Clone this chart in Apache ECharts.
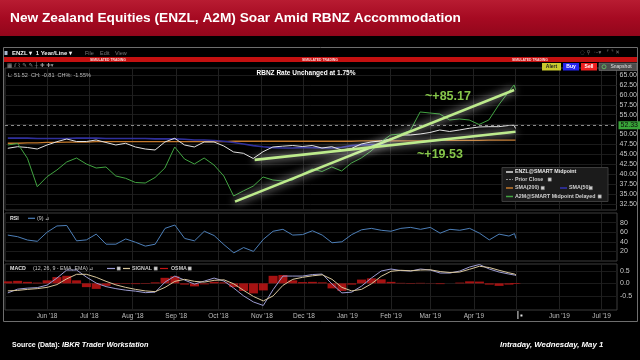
<!DOCTYPE html>
<html><head><meta charset="utf-8">
<script src="https://cdn.jsdelivr.net/npm/echarts@6.0.0/dist/echarts.min.js"></script>
<style>html,body{margin:0;padding:0;background:#000;}#c{width:640px;height:360px;}</style>
</head><body><div id="c"></div>
<script>
// ---------- DATA ----------
const dates = ['2018-05-04','2018-05-11','2018-05-18','2018-05-25','2018-06-01','2018-06-08','2018-06-15','2018-06-22','2018-06-29','2018-07-06','2018-07-13','2018-07-20','2018-07-27','2018-08-03','2018-08-10','2018-08-17','2018-08-24','2018-08-31','2018-09-07','2018-09-14','2018-09-21','2018-09-28','2018-10-05','2018-10-12','2018-10-19','2018-10-26','2018-11-02','2018-11-09','2018-11-16','2018-11-23','2018-11-30','2018-12-07','2018-12-14','2018-12-21','2018-12-28','2019-01-04','2019-01-11','2019-01-18','2019-01-25','2019-02-01','2019-02-08','2019-02-15','2019-02-22','2019-03-01','2019-03-08','2019-03-15','2019-03-22','2019-03-29','2019-04-05','2019-04-12','2019-04-19','2019-04-26','2019-04-30','2019-05-01'];
const enzl = [46.53,46.93,46.73,46.35,47.36,48.19,48.87,48.24,48.24,48.62,47.99,47.36,47.79,46.86,46.35,46.10,48.12,49.05,47.36,46.86,48.12,48.12,47.11,45.60,45.27,43.96,45.67,46.86,47.06,47.23,46.98,47.23,46.60,46.93,46.10,46.48,47.61,48.12,48.37,48.87,49.88,49.88,50.13,50.51,51.14,50.76,51.14,51.57,51.90,51.97,51.97,52.27,52.33,51.52];
const a2m = [47.36,47.74,44.0,36.85,39.37,41.06,43.08,44.08,42.57,41.56,41.82,39.55,38.97,37.91,37.78,39.17,41.56,46.86,43.83,42.57,44.08,42.32,39.55,34.5,35.8,37.0,39.3,38.54,38.29,38.54,40.05,41.31,40.68,41.82,40.81,42.82,44.08,45.85,48.12,49.88,50.13,51.01,55.68,55.42,55.17,53.66,53.91,53.66,52.53,53.66,57.44,60.72,62.5,61.3];
const sma200 = [47.8,47.8,47.9,47.9,48.0,48.0,48.1,48.1,48.1,48.2,48.2,48.2,48.2,48.2,48.2,48.2,48.2,48.2,48.2,48.2,48.2,48.2,48.2,48.3,48.3,48.3,48.3,48.3,48.3,48.3,48.3,48.3,48.3,48.3,48.3,48.3,48.4,48.4,48.4,48.4,48.4,48.4,48.4,48.5,48.5,48.5,48.5,48.5,48.5,48.6,48.6,48.6,48.6,48.6];
const sma50 = [49.1,49.1,49.1,49.0,49.0,49.0,49.0,49.1,49.1,49.1,49.0,49.0,49.0,49.0,49.0,48.9,48.9,48.9,48.8,48.6,48.6,48.5,48.3,48.0,47.6,47.2,46.9,46.7,46.6,46.6,46.7,46.7,46.6,46.6,46.8,47.2,47.4,47.5,47.4,47.3,47.55,47.8,48.1,48.35,48.6,48.9,49.15,49.4,49.7,49.95,50.2,50.5,50.65,50.7];
const rsi = [54,50.6,43.7,41,60,73,74,42,44,56,35,35,46,39,31,35,68,75,47,42,62,53,34,17,28,20,45,62,66,54,55,63,54,38,40,55,65,68,64,62,68,70,66,70,58,66,64,68,58,44,56,52,57,47];
const macd = [-0.38,-0.23,-0.19,-0.17,-0.07,0.21,0.53,0.53,0.25,0.01,-0.13,-0.21,-0.27,-0.31,-0.37,-0.35,0.05,0.29,0.13,-0.03,0.09,0.21,0.09,-0.19,-0.5,-0.74,-0.88,-0.25,0.29,0.29,0.29,0.35,0.37,-0.03,-0.38,-0.35,-0.11,0.21,0.49,0.57,0.51,0.49,0.57,0.53,0.41,0.41,0.49,0.65,0.75,0.57,0.45,0.37,0.33,0.31];
const signal = [-0.30,-0.28,-0.24,-0.21,-0.16,-0.05,0.18,0.36,0.36,0.24,0.08,-0.06,-0.16,-0.24,-0.30,-0.33,-0.16,0.08,0.16,0.08,0.05,0.12,0.14,-0.02,-0.28,-0.52,-0.70,-0.50,-0.08,0.16,0.24,0.30,0.34,0.16,-0.16,-0.30,-0.24,-0.02,0.28,0.48,0.52,0.50,0.53,0.54,0.47,0.43,0.45,0.56,0.68,0.63,0.52,0.42,0.37,0.34];
const osma = [0.08,0.1,0.06,0.03,0.12,0.25,0.3,0.12,-0.15,-0.22,-0.1,-0.03,-0.02,-0.03,-0.02,0.04,0.22,0.28,-0.05,-0.12,-0.04,0.06,0.04,-0.15,-0.3,-0.4,-0.28,0.3,0.33,0.12,0.05,0.06,0.04,-0.2,-0.3,-0.05,0.15,0.2,0.16,0.06,0.02,-0.02,0.02,0.01,-0.03,0.0,0.03,0.08,0.07,-0.05,-0.1,-0.05,-0.02,-0.02];
const trendA2M = [['2018-10-13',33.1],['2019-04-30',61.2]];
const trendENZL = [['2018-10-27',43.6],['2019-05-01',50.7]];
const priorClose = 52.33;
const lastPrice = 51.52;
const priceTicks = [32.5,35,37.5,40,42.5,45,47.5,50,52.5,55,57.5,60,62.5,65];
const rsiTicks = [20,40,60,80];
const macdTicks = [-0.5,0,0.5];
const monthTicks = ['2018-06-01','2018-07-01','2018-08-01','2018-09-01','2018-10-01','2018-11-01','2018-12-01','2019-01-01','2019-02-01','2019-03-01','2019-04-01','2019-06-01','2019-07-01'];
const gridLines = ['2018-06-01','2018-07-01','2018-08-01','2018-09-01','2018-10-01','2018-11-01','2018-12-01','2019-01-01','2019-02-01','2019-03-01','2019-04-01','2019-05-01','2019-06-01','2019-07-01'];
const xStart = '2018-05-02', xEnd = '2019-07-12', nowDate = '2019-05-01';

// ---------- HELPERS ----------
function ts(s){const p=s.split('-').map(Number);return new Date(p[0],p[1]-1,p[2]).getTime();}
const pair = arr => dates.map((d,i)=>[ts(d),arr[i]]);
const MON = ['Jan','Feb','Mar','Apr','May','Jun','Jul','Aug','Sep','Oct','Nov','Dec'];
const fmtMonth = v => {const d=new Date(v);return MON[d.getMonth()]+" '"+String(d.getFullYear()).slice(2);};
const FF = '"Liberation Sans", Arial, sans-serif';

const chart = echarts.init(document.getElementById('c'), null, {renderer:'canvas'});

const xAx = (gi, show) => ({
  type:'value', gridIndex:gi, min:ts(xStart), max:ts(xEnd),
  axisLine:{show:false},
  axisTick:{show:false, customValues: gridLines.map(ts)},
  splitLine:{show:true, lineStyle:{color:'#202020', width:1}},
  axisLabel:{show:show, customValues: monthTicks.map(ts), formatter:fmtMonth, color:'#bdbdbd', fontSize:6.5, margin:3, fontFamily:FF}
});
const yAx = (gi, min, max, ticks, fmt) => ({
  type:'value', gridIndex:gi, position:'right', min, max,
  axisLine:{show:false},
  axisTick:{show:false, customValues:ticks},
  splitLine:{show:true, lineStyle:{color:'#1b1b1b', width:1}},
  axisLabel:{customValues:ticks, formatter:fmt, color:'#c8c8c8', fontSize:7, margin:3, fontFamily:FF}
});
const lineS = (name, data, color, w, xi, extra) => Object.assign({
  type:'line', name, data, xAxisIndex:xi, yAxisIndex:xi, showSymbol:false, symbol:'none',
  lineStyle:{color, width:w}, silent:true, animation:false
}, extra||{});

const glow = {color:'#bdeb8c', width:2.6, shadowColor:'rgba(255,255,255,0.95)', shadowBlur:9};

const option = {
  backgroundColor:'#000',
  animation:false,
  textStyle:{fontFamily:FF},
  grid:[
    {left:5, right:23, top:68, height:142, show:true, borderColor:'#3c3c3c', borderWidth:1},
    {left:5, right:23, top:213, height:48, show:true, borderColor:'#3c3c3c', borderWidth:1},
    {left:5, right:23, top:264, height:46, show:true, borderColor:'#3c3c3c', borderWidth:1}
  ],
  xAxis:[xAx(0,false), xAx(1,false), xAx(2,true)],
  yAxis:[
    yAx(0, 30.98, 66.76, priceTicks, v=>v.toFixed(2)),
    yAx(1, 0, 100, rsiTicks, v=>String(v)),
    yAx(2, -1.06, 0.77, macdTicks, v=>v.toFixed(1))
  ],
  series:[
    lineS('SMA(200)', pair(sma200), '#c47a2c', 1.3, 0),
    lineS('SMA(50)', pair(sma50), '#30309c', 1.6, 0),
    lineS('ENZL@SMART Midpoint', pair(enzl), '#e2e2e2', 1, 0, {
      markLine:{silent:true, symbol:'none', animation:false, data:[
        {yAxis:priorClose, lineStyle:{type:[3,3], color:'#8a8a8a', width:1},
          label:{show:true, position:'end', distance:2, formatter:priorClose.toFixed(2), backgroundColor:'#39a539', color:'#0b0b0b', fontSize:7, padding:[1,2,0,2], fontFamily:FF}},
        {yAxis:lastPrice, lineStyle:{opacity:0},
          label:{show:true, position:'end', distance:2, formatter:lastPrice.toFixed(2), backgroundColor:'#e01818', color:'#ffffff', fontSize:7, padding:[1,2,0,2], fontFamily:FF}}
      ]}
    }),
    lineS('A2M@SMART Midpoint Delayed', pair(a2m), '#42a442', 1, 0),
    lineS('trendA2M', trendA2M.map(p=>[ts(p[0]),p[1]]), '#bdeb8c', 2.6, 0, {lineStyle:glow, z:5}),
    lineS('trendENZL', trendENZL.map(p=>[ts(p[0]),p[1]]), '#bdeb8c', 2.6, 0, {lineStyle:glow, z:5}),
    lineS('RSI', pair(rsi), '#4d7fb8', 1, 1),
    {type:'bar', name:'OSMA', data:pair(osma), xAxisIndex:2, yAxisIndex:2, barWidth:9, itemStyle:{color:'#b81414', opacity:0.9}, silent:true, animation:false},
    lineS('MACD', pair(macd), '#9c9cd2', 1, 2),
    lineS('SIGNAL', pair(signal), '#d8c69c', 1, 2)
  ]
};
chart.setOption(option);

// ---------- GRAPHIC OVERLAY ----------
const G = [];
const txt = (x,y,text,o={}) => G.push({type:'text', x, y, z:o.z||60, style:{text, fill:o.fill||'#dddddd', font:o.font||('5.5px '+FF), align:o.align||'left', verticalAlign:'middle', textAlign:o.align||'left', textVerticalAlign:'middle'}});
const rect = (x,y,w,h,fill,o={}) => G.push({type:'rect', z:o.z||50, shape:{x,y,width:w,height:h}, style:{fill, stroke:o.stroke||null, lineWidth:o.lw||1}});
const seg = (x1,y1,x2,y2,stroke,o={}) => G.push({type:'line', z:o.z||55, shape:{x1,y1,x2,y2}, style:{stroke, lineWidth:o.lw||1, lineDash:o.dash||null}});
const box = (x,y) => rect(x,y,3.4,3.4,'#cfcfcf',{stroke:'#777', lw:0.5, z:61});

// title banner
rect(0,0,640,36,new echarts.graphic.LinearGradient(0,0,0,1,[{offset:0,color:'#b81c32'},{offset:0.5,color:'#a60a22'},{offset:1,color:'#92061b'}]),{z:1});
txt(10,18,'New Zealand Equities (ENZL, A2M) Soar Amid RBNZ Accommodation',{fill:'#ffffff', font:'bold 13.7px '+FF});

// window frame & toolbar
rect(3.5,47.5,634,274,'none',{stroke:'#6e6e6e', z:3});
rect(4.5,51,3,4,'#a8b8d0');
txt(12,53,'ENZL ▾  1 Year/Line ▾',{fill:'#f2f2f2', font:'bold 6px '+FF});
txt(85,53,'File',{fill:'#777', font:'5.5px '+FF});
txt(100,53,'Edit',{fill:'#777', font:'5.5px '+FF});
txt(115,53,'View',{fill:'#777', font:'5.5px '+FF});
txt(580,53,'◌ ⚲  ·–▾   ⌜ ⌝ ✕',{fill:'#777', font:'5.5px "DejaVu Sans"'});
rect(4,57,633,5,'#c41010',{z:4});
txt(108,59.6,'SIMULATED TRADING',{align:'center', fill:'#ffd6d6', font:'bold 3.4px '+FF});
txt(320,59.6,'SIMULATED TRADING',{align:'center', fill:'#ffd6d6', font:'bold 3.4px '+FF});
txt(530,59.6,'SIMULATED TRADING',{align:'center', fill:'#ffd6d6', font:'bold 3.4px '+FF});
txt(7,65.5,'▦ ⫽ ⌇ ✎ ✎ ┼ ✚ ✚▾',{fill:'#9a9a9a', font:'5.5px "DejaVu Sans"'});

// buttons
rect(542,63,19,7.5,'#c9c92e');
txt(551.5,66.8,'Alert',{align:'center', fill:'#222', font:'bold 5px '+FF});
rect(563,63,16,7.5,'#2424ee');
txt(571,66.8,'Buy',{align:'center', fill:'#fff', font:'bold 5px '+FF});
rect(581,63,16,7.5,'#ee2020');
txt(589,66.8,'Sell',{align:'center', fill:'#fff', font:'bold 5px '+FF});
rect(599,63,38,7.5,'#4c4c4c',{stroke:'#8a8a8a', lw:0.5});
G.push({type:'circle', z:61, shape:{cx:604,cy:66.8,r:2}, style:{fill:'none', stroke:'#6c6', lineWidth:0.8}});
txt(621,66.8,'Snapshot',{align:'center', fill:'#e0e0e0', font:'5px '+FF});

// stats + note
const ch = lastPrice - priorClose;
txt(8,75,'L: '+lastPrice.toFixed(2)+'  CH: '+ch.toFixed(2)+'  CH%: '+(ch/priorClose*100).toFixed(2)+'%',{fill:'#bdbdbd', font:'5.5px '+FF});
txt(306,73,'RBNZ Rate Unchanged at 1.75%',{align:'center', fill:'#ffffff', font:'bold 6.5px '+FF});
txt(448,97,'~+85.17',{align:'center', fill:'#86c64a', font:'bold 12.5px '+FF});
txt(440,155,'~+19.53',{align:'center', fill:'#86c64a', font:'bold 12.5px '+FF});

// legend box
rect(502,167.5,106,34,'#1b1b1b',{stroke:'#3c3c3c', lw:1});
seg(506,172,513,172,'#e2e2e2',{lw:1.5, z:61});
txt(515,172,'ENZL@SMART Midpoint',{fill:'#e8e8e8', font:'bold 5.3px '+FF});
seg(506,179.5,513,179.5,'#909090',{dash:[2,1], z:61});
txt(515,179.5,'Prior Close',{fill:'#d0d0d0', font:'bold 5.3px '+FF});
box(548,177.8);
seg(506,188,513,188,'#c47a2c',{lw:1.5, z:61});
txt(515,188,'SMA(200)',{fill:'#d0d0d0', font:'bold 5.3px '+FF});
box(541,186.3);
seg(560,188,567,188,'#3434b4',{lw:1.5, z:61});
txt(569,188,'SMA(50)',{fill:'#d0d0d0', font:'bold 5.3px '+FF});
box(589,186.3);
seg(506,196.5,513,196.5,'#42a442',{lw:1.5, z:61});
txt(515,196.5,'A2M@SMART Midpoint Delayed',{fill:'#d0d0d0', font:'bold 5.3px '+FF});
box(598,194.8);

// RSI header
txt(10,218.3,'RSI',{fill:'#e0e0e0', font:'bold 5.3px '+FF});
seg(28,218.3,35,218.3,'#4d7fb8',{lw:1.2, z:61});
txt(37,218.3,'(9) ⊿',{fill:'#c8c8c8', font:'5.3px '+FF});

// MACD header
txt(10,268.5,'MACD',{fill:'#e0e0e0', font:'bold 5.3px '+FF});
txt(33,268.5,'(12, 26, 9 - EMA, EMA) ⊿',{fill:'#c8c8c8', font:'5.3px '+FF});
seg(107,268.5,115,268.5,'#9c9cd2',{lw:1.2, z:61});
box(117,266.8);
seg(123,268.5,130,268.5,'#d8c69c',{lw:1.2, z:61});
txt(132,268.5,'SIGNAL',{fill:'#c8c8c8', font:'bold 5.3px '+FF});
box(154,266.8);
seg(160,268.5,168,268.5,'#c41414',{lw:1.2, z:61});
txt(171,268.5,'OSMA',{fill:'#c8c8c8', font:'bold 5.3px '+FF});
box(188,266.8);

// now marker on the axis (position from the library's scale)
const nx = chart.convertToPixel({xAxisIndex:2}, ts(nowDate));
seg(nx+2,311,nx+2,319,'#e8e8e8',{lw:1, z:62});
rect(nx+4.5,314.5,2,2,'#e8e8e8',{z:62});

// footer
txt(12,345,'Source (Data):',{fill:'#ffffff', font:'bold 7px '+FF});
txt(62,345,'IBKR Trader Workstation',{fill:'#ffffff', font:'italic bold 7.3px '+FF});
txt(500,345,'Intraday, Wednesday, May 1',{fill:'#ffffff', font:'italic bold 7.8px '+FF});

chart.setOption({graphic:{elements:G}});
</script>
</body></html>
